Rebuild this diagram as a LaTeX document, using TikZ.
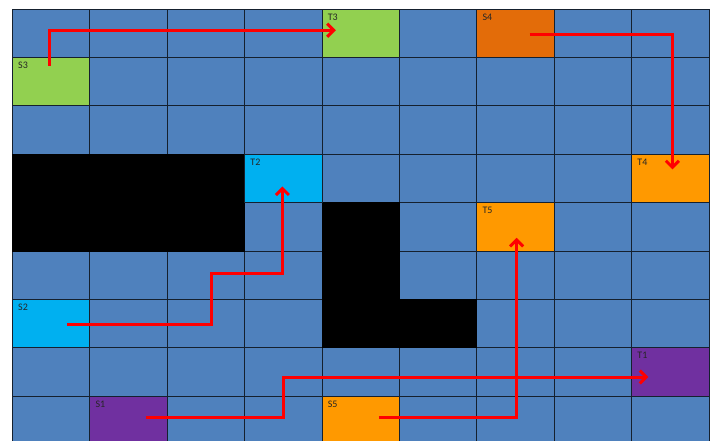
\documentclass[tikz,border=0pt]{standalone}
\usepackage{fontspec}
\setmainfont{Carlito}
\usetikzlibrary{arrows.meta, calc}
\definecolor{cellblue}{HTML}{4F81BD}
\definecolor{gridline}{HTML}{15202E}
\definecolor{pairgreen}{HTML}{92D050}
\definecolor{pairorange}{HTML}{FF9900}
\definecolor{pairrust}{HTML}{E36C09}
\definecolor{paircyan}{HTML}{00B0F0}
\definecolor{pairpurple}{HTML}{7030A0}
\definecolor{routered}{HTML}{FF0000}
\tikzset{
  cell/.style={rectangle, draw=gridline, line width=1pt, inner sep=0pt,
    minimum width=77.4pt, minimum height=48.4pt, anchor=north west},
  wall/.style={cell, fill=black, draw=black},
  tag/.style={anchor=north west, inner sep=0pt, xshift=6pt, yshift=-5pt,
    font=\fontsize{10}{11}\selectfont, text=black!85},
  pin/.style={cell, label={[tag]north west:#1}},
  route/.style={draw=routered, line width=3pt,
    -{Straight Barb[length=6.5pt, width=13pt]}},
}

\begin{document}
\begin{tikzpicture}[x=1pt, y=-1pt]
  \useasboundingbox (0,0) rectangle (717,440);
  \clip (0,0) rectangle (717,440);

  %% Blue grid
  \foreach \c in {0,...,8}
    \foreach \r in {0,...,8}
      \node[cell, fill=cellblue] (g\c-\r) at ({12+77.4*\c}, {8.5+48.4*\r}) {};

  %% Walls
  \foreach \c/\r in {0/3, 1/3, 2/3, 0/4, 1/4, 2/4, 4/4, 4/5, 4/6, 5/6}
    \node[wall] (w\c-\r) at (g\c-\r.north west) {};

  %% Sources and targets
  \node[pin=S1, fill=pairpurple] (s1) at (g1-8.north west) {};
  \node[pin=T1, fill=pairpurple] (t1) at (g8-7.north west) {};
  \node[pin=S2, fill=paircyan]   (s2) at (g0-6.north west) {};
  \node[pin=T2, fill=paircyan]   (t2) at (g3-3.north west) {};
  \node[pin=S3, fill=pairgreen]  (s3) at (g0-1.north west) {};
  \node[pin=T3, fill=pairgreen]  (t3) at (g4-0.north west) {};
  \node[pin=S4, fill=pairrust]   (s4) at (g6-0.north west) {};
  \node[pin=T4, fill=pairorange] (t4) at (g8-3.north west) {};
  \node[pin=S5, fill=pairorange] (s5) at (g4-8.north west) {};
  \node[pin=T5, fill=pairorange] (t5) at (g6-4.north west) {};

  %% Routes
  \draw[route] ($(s1)+(17,-3)$) -| ($(g3-7)+(0,5)$) -- ($(t1)+(-22,5)$);
  \draw[route] ($(s2)+(16,1)$) -| ($(g2-5)+(5,-2)$) -| ($(t2)+(-1,8)$);
  \draw[route] ($(s3)+(-2,-16)$) |- ($(t3)+(-25,-3)$);
  \draw[route] ($(s4)+(14,1)$) -| ($(t4)+(2,-9)$);
  \draw[route] ($(s5)+(18,-3)$) -| ($(t5)+(1,11)$);

\end{tikzpicture}
\end{document}
